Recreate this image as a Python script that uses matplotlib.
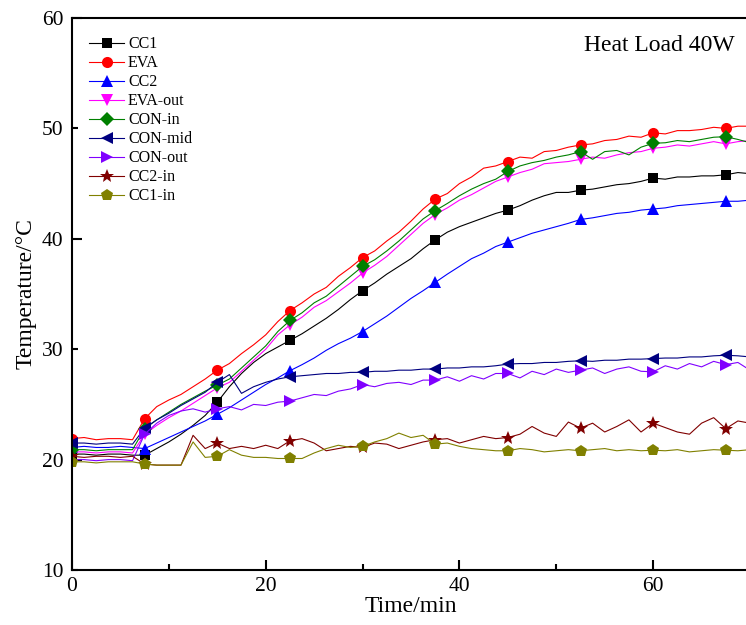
import numpy as np
import matplotlib.pyplot as plt
from matplotlib.ticker import MultipleLocator, NullFormatter

plt.rcParams['font.family'] = ['Liberation Serif', 'DejaVu Serif']
plt.rcParams['mathtext.fontset'] = 'stix'

# time axis, one reading every 1.25 min
t = np.arange(57) * 1.25

cc1 = [20.5, 20.5, 20.4, 20.5, 20.5, 20.4, 20.4, 21.0, 21.6, 22.3, 23.1, 24.0, 25.2, 26.6, 27.8,
       28.8, 29.6, 30.2, 30.8, 31.4, 32.1, 32.8, 33.6, 34.5, 35.3, 36.0, 36.8, 37.5, 38.2, 39.1,
       39.9, 40.6, 41.1, 41.5, 41.9, 42.3, 42.6, 43.0, 43.5, 43.9, 44.2, 44.2, 44.4, 44.5, 44.7,
       44.9, 45.0, 45.2, 45.5, 45.4, 45.6, 45.6, 45.7, 45.7, 45.8, 46.0, 45.9]
eva = [21.9, 22.0, 21.8, 21.9, 21.9, 21.8, 23.7, 24.8, 25.4, 25.9, 26.6, 27.3, 28.1, 28.7, 29.6,
       30.4, 31.3, 32.5, 33.5, 34.2, 35.0, 35.6, 36.6, 37.4, 38.3, 38.9, 39.8, 40.6, 41.6, 42.7,
       43.6, 44.1, 45.0, 45.6, 46.4, 46.6, 47.0, 47.4, 47.3, 47.9, 48.0, 48.3, 48.5, 48.6, 48.9,
       49.0, 49.3, 49.2, 49.6, 49.5, 49.8, 49.8, 49.9, 50.1, 50.0, 50.2, 50.2]
cc2 = [21.1, 21.2, 21.1, 21.1, 21.2, 21.1, 21.0, 21.5, 22.0, 22.5, 23.0, 23.5, 24.1, 24.7, 25.4,
       26.1, 26.8, 27.4, 28.05, 28.6, 29.2, 29.9, 30.5, 31.0, 31.6, 32.3, 33.0, 33.8, 34.6, 35.3,
       36.05, 36.8, 37.5, 38.2, 38.7, 39.3, 39.7, 40.1, 40.5, 40.8, 41.1, 41.4, 41.75, 41.9, 42.1,
       42.3, 42.4, 42.6, 42.7, 42.8, 43.0, 43.1, 43.2, 43.3, 43.4, 43.4, 43.5]
eva_out = [20.7, 20.7, 20.6, 20.7, 20.7, 20.6, 22.3, 23.1, 23.8, 24.4, 25.1, 25.8, 26.5, 27.0, 28.0,
           29.0, 30.0, 31.3, 32.2, 32.9, 33.8, 34.4, 35.2, 36.0, 36.9, 37.6, 38.4, 39.4, 40.4, 41.4,
           42.2, 42.8, 43.5, 44.0, 44.6, 45.2, 45.6, 46.0, 46.3, 46.8, 46.9, 47.0, 47.2, 47.4, 47.3,
           47.6, 47.8, 47.9, 48.2, 48.3, 48.5, 48.4, 48.6, 48.8, 48.6, 48.8, 48.9]
con_in = [20.9, 20.9, 20.8, 20.9, 20.9, 20.9, 22.8, 23.6, 24.3, 25.0, 25.6, 26.2, 26.75, 27.3, 28.3,
          29.3, 30.3, 31.6, 32.6, 33.3, 34.2, 34.8, 35.7, 36.6, 37.5, 38.1, 38.9, 39.8, 40.8, 41.8,
          42.55, 43.2, 43.9, 44.5, 45.0, 45.4, 46.1, 46.6, 46.9, 47.1, 47.4, 47.6, 47.9, 47.2, 47.9,
          48.0, 47.6, 48.3, 48.65, 48.7, 48.9, 48.8, 49.0, 49.2, 49.25, 49.0, 48.7]
con_mid = [21.5, 21.5, 21.4, 21.5, 21.5, 21.4, 22.85, 23.6, 24.2, 24.9, 25.5, 26.1, 27.0, 27.7, 26.0,
           26.6, 27.0, 27.3, 27.5, 27.6, 27.7, 27.8, 27.8, 27.9, 27.9, 28.0, 28.0, 28.1, 28.1, 28.2,
           28.2, 28.3, 28.3, 28.4, 28.4, 28.5, 28.65, 28.7, 28.7, 28.8, 28.8, 28.9, 28.95, 28.9, 29.0,
           29.0, 29.1, 29.1, 29.15, 29.2, 29.2, 29.3, 29.3, 29.4, 29.45, 29.4, 29.3]
con_out = [20.0, 20.0, 19.9, 20.0, 20.0, 19.9, 22.3, 23.3, 24.0, 24.4, 24.6, 24.3, 24.6, 24.8, 24.5,
           25.0, 24.9, 25.2, 25.3, 25.6, 25.9, 25.8, 26.2, 26.4, 26.8, 26.6, 26.9, 27.0, 26.8, 27.2,
           27.2, 27.5, 27.1, 27.6, 27.3, 27.8, 27.8, 27.4, 28.0, 27.7, 28.2, 27.9, 28.1, 28.3, 27.8,
           28.2, 28.4, 28.0, 27.95, 28.5, 28.2, 28.7, 28.4, 28.9, 28.6, 28.8, 28.1]
cc2_in = [20.3, 20.2, 20.3, 20.3, 20.2, 20.3, 19.6, 19.5, 19.5, 19.5, 22.2, 21.0, 21.5, 21.0, 21.2,
          21.0, 21.3, 21.0, 21.7, 21.9, 21.5, 20.8, 21.0, 21.2, 21.1, 21.5, 21.4, 21.0, 21.3, 21.6,
          21.8, 21.9, 21.5, 21.8, 22.1, 21.9, 22.0, 22.3, 23.0, 22.4, 22.1, 23.4, 22.85, 23.3, 22.5,
          23.0, 23.6, 22.5, 23.3, 22.9, 22.5, 22.3, 23.3, 23.8, 22.8, 23.5, 23.3]
cc1_in = [19.8, 19.8, 19.7, 19.8, 19.8, 19.8, 19.6, 19.5, 19.5, 19.5, 21.6, 20.2, 20.3, 20.9, 20.4,
          20.2, 20.2, 20.1, 20.1, 20.1, 20.6, 21.0, 21.3, 21.1, 21.2, 21.6, 21.9, 22.4, 22.0, 22.2,
          21.4, 21.5, 21.2, 21.0, 20.9, 20.8, 20.8, 21.0, 20.9, 20.7, 20.8, 20.9, 20.8, 20.9, 21.0,
          20.8, 20.9, 20.8, 20.85, 20.8, 20.9, 20.7, 20.8, 20.9, 20.85, 20.8, 20.9]

series = [
    ("CC1", cc1, "black", "s", 7.5),
    ("EVA", eva, "#ff0000", "o", 8),
    ("CC2", cc2, "#0000ff", "^", 8),
    ("EVA-out", eva_out, "#ff00ff", "v", 8),
    ("CON-in", con_in, "#008000", "D", 7),
    ("CON-mid", con_mid, "#000080", "<", 8),
    ("CON-out", con_out, "#8000ff", ">", 8),
    ("CC2-in", cc2_in, "#800000", "*", 10),
    ("CC1-in", cc1_in, "#808000", "p", 9),
]

fig = plt.figure(figsize=(7.46, 6.25), dpi=100)
ax = fig.add_axes([72 / 746, 55 / 625, 678 / 746, 552 / 625])

for name, vals, c, m, ms in series:
    ax.plot(t, vals, color=c, lw=0.8, marker=m, ms=ms, markevery=6,
            markeredgewidth=0, label=name)

ax.set_xlim(0, 70)
ax.set_ylim(10, 60)

ax.xaxis.set_major_locator(MultipleLocator(20))
ax.xaxis.set_minor_locator(MultipleLocator(10))
ax.xaxis.set_minor_formatter(NullFormatter())
ax.yaxis.set_major_locator(MultipleLocator(20))
ax.yaxis.set_minor_locator(MultipleLocator(10))
ax.yaxis.set_minor_formatter(lambda v, p: "%d" % v)

ax.tick_params(which='both', direction='in', width=1.5, labelsize=15.5, top=False, right=False)
ax.tick_params(which='major', length=7, pad=5)
ax.tick_params(which='minor', length=4, pad=5)
ax.tick_params(axis='y', which='both', pad=6, labelsize=15.5)

for s in ['left', 'bottom', 'top']:
    ax.spines[s].set_linewidth(1.5)
ax.spines['right'].set_visible(False)

ax.set_xlabel("Time/min", fontsize=17, labelpad=0)
ax.set_ylabel("Temperature/°C", fontsize=17, labelpad=4)

ax.text(0.978, 0.951, "Heat Load 40W", transform=ax.transAxes, ha='right', va='center', fontsize=17)

ax.legend(loc='upper left', bbox_to_anchor=(0.025, 0.967), frameon=False, fontsize=11.5,
          borderpad=0, borderaxespad=0, labelspacing=0.19, handlelength=2.2, handletextpad=0.25)

plt.savefig("out.png", dpi=100)
